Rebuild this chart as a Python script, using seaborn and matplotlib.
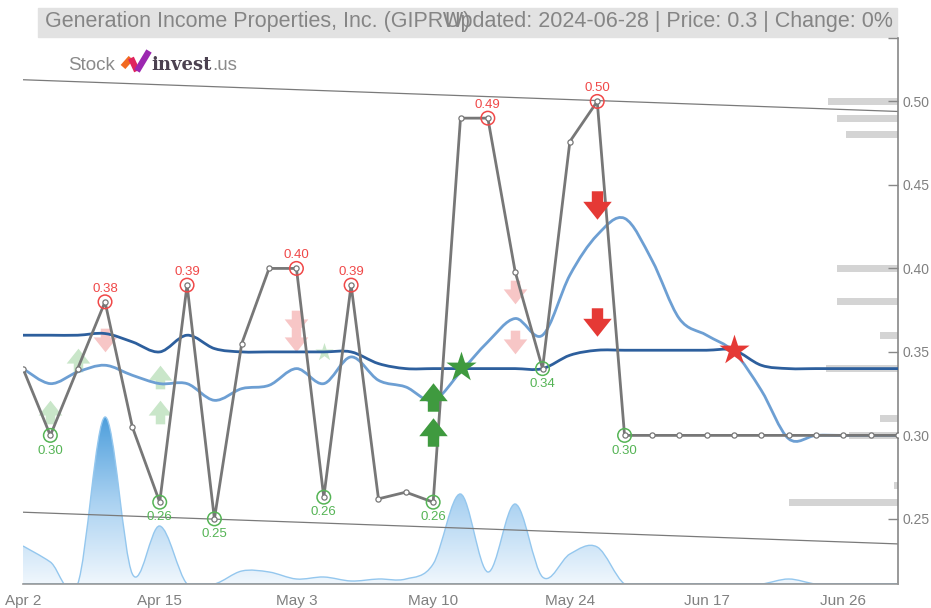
import numpy as np
import matplotlib
matplotlib.use("Agg")
import matplotlib.pyplot as plt
from matplotlib.path import Path
from matplotlib.patches import Rectangle, PathPatch
from matplotlib.lines import Line2D
from matplotlib.colors import LinearSegmentedColormap
import seaborn as sns

# ---- values (one point per trading day) ----
tick_pos = [0, 5, 10, 15, 20, 25, 30]
tick_labels = ["Apr 2", "Apr 15", "May 3", "May 10", "May 24", "Jun 17", "Jun 26"]

price = [0.34, 0.30, 0.34, 0.38, 0.305, 0.26, 0.39, 0.25, 0.355, 0.40, 0.40,
         0.263, 0.39, 0.262, 0.266, 0.26, 0.49, 0.49, 0.398, 0.34, 0.476, 0.50,
         0.30, 0.30, 0.30, 0.30, 0.30, 0.30, 0.30, 0.30, 0.30, 0.30, 0.30]
ma_short = [0.340, 0.331, 0.338, 0.342, 0.336, 0.331, 0.331, 0.321, 0.328, 0.330,
            0.340, 0.331, 0.347, 0.333, 0.329, 0.321, 0.338, 0.356, 0.370, 0.360,
            0.396, 0.420, 0.430, 0.405, 0.370, 0.360, 0.350, 0.327, 0.298, 0.300,
            0.300, 0.300, 0.300]
ma_long = [0.360, 0.360, 0.360, 0.361, 0.356, 0.350, 0.360, 0.352, 0.350, 0.350,
           0.350, 0.350, 0.350, 0.343, 0.340, 0.340, 0.340, 0.340, 0.340, 0.340,
           0.348, 0.351, 0.351, 0.351, 0.351, 0.351, 0.351, 0.342, 0.340, 0.340,
           0.340, 0.340, 0.340]
volume = [3800, 2200, 0, 16700, 1000, 5800, 0, 0, 1300, 1200, 500, 700, 300, 500,
          500, 2000, 9000, 1200, 8000, 700, 3000, 3700, 0, 0, 0, 0, 0, 0, 500,
          0, 0, 0, 0]

high_idx = [3, 6, 10, 12, 17, 21]
low_idx = [1, 5, 7, 11, 15, 19, 22]

trend_x = [0, 32]
trend_upper = [0.513, 0.494]
trend_lower = [0.254, 0.235]

buy_weak_x, buy_weak_y = [1, 2, 5, 5], [0.314, 0.345, 0.335, 0.314]
sell_weak_x, sell_weak_y = [3, 10, 10, 18, 18], [0.357, 0.368, 0.357, 0.386, 0.356]
buy_strong_x, buy_strong_y = [15, 15], [0.323, 0.302]
sell_strong_x, sell_strong_y = [21, 21], [0.438, 0.368]
star_weak_x, star_weak_y = [11], [0.350]
star_buy_x, star_buy_y = [16], [0.341]
star_sell_x, star_sell_y = [26], [0.351]

profile_price = [0.50, 0.49, 0.48, 0.40, 0.38, 0.36, 0.34, 0.31, 0.30, 0.27, 0.26]
profile_vol = [70, 61, 52, 61, 61, 18, 72, 18, 49, 4, 109]

title_left = "Generation Income Properties, Inc. (GIPRW)"
title_right = "Updated: 2024-06-28 | Price: 0.3 | Change: 0%"


def smooth_path(xs, ys):
    # cardinal (catmull-rom) curve through the points, as bezier segments
    pts = np.column_stack([xs, ys]).astype(float)
    ext = np.vstack([pts[0], pts, pts[-1]])
    verts = [pts[0]]
    codes = [Path.MOVETO]
    for i in range(len(pts) - 1):
        p0, p1, p2, p3 = ext[i], ext[i + 1], ext[i + 2], ext[i + 3]
        verts += [p1 + (p2 - p0) / 6, p2 - (p3 - p1) / 6, p2]
        codes += [Path.CURVE4] * 3
    return Path(verts, codes)


sns.set_style("white")
plt.rcParams["font.family"] = ["Liberation Sans", "DejaVu Sans"]

W, H = 931, 608
fig = plt.figure(figsize=(W / 100, H / 100), dpi=100)
rect = [23 / W, 24 / H, 875 / W, 546 / H]

ax_vol = fig.add_axes(rect)
ax_prof = fig.add_axes(rect)
ax = fig.add_axes(rect)
ax_vol.set_zorder(0)
ax_prof.set_zorder(1)
ax.set_zorder(2)
ax.patch.set_visible(False)
ax_prof.patch.set_visible(False)

x = np.arange(len(price))

# volume area with vertical gradient
vmax = max(volume)
vol_curve = smooth_path(x, volume)
area = Path(np.vstack([vol_curve.vertices, [[x[-1], 0], [x[0], 0], [x[0], volume[0]]]]),
            list(vol_curve.codes) + [Path.LINETO, Path.LINETO, Path.CLOSEPOLY])
cmap = LinearSegmentedColormap.from_list("vol", ["#f0f7fd", "#a9d1f1", "#4e9fdc"])
grad = np.linspace(0, 1, 256).reshape(-1, 1)
img = ax_vol.imshow(grad, extent=[0, 32, 0, vmax], origin="lower", aspect="auto",
                    cmap=cmap, zorder=1)
img.set_clip_path(area, transform=ax_vol.transData)
ax_vol.add_patch(PathPatch(vol_curve, fill=False, edgecolor="#94c7ee", lw=1, zorder=2))
ax_vol.axhline(0, color="#86bde8", lw=2, zorder=3)
ax_vol.set_xlim(0, 32)
ax_vol.set_ylim(0, vmax * 546 / 167)
ax_vol.axis("off")

# price-by-volume bars on the right
ax_prof.barh(profile_price, profile_vol, height=0.0042, left=0, color="#d4d4d4", lw=0)
ax_prof.set_xlim(max(profile_vol) * 875 / 109, 0)
ax_prof.set_ylim(0.211, 0.538)
ax_prof.axis("off")

# trend channel
sns.lineplot(x=trend_x, y=trend_upper, ax=ax, color="#7a7a7a", lw=0.9)
sns.lineplot(x=trend_x, y=trend_lower, ax=ax, color="#7a7a7a", lw=0.9)

# moving averages (smoothed curves through the read values)
ax.add_patch(PathPatch(smooth_path(x, ma_long), fill=False, edgecolor="#2d5f9d",
                       lw=2.0, zorder=3))
ax.add_patch(PathPatch(smooth_path(x, ma_short), fill=False, edgecolor="#6d9fd3",
                       lw=2.0, zorder=3))

# price line + dots
sns.lineplot(x=x, y=price, ax=ax, color="#777777", lw=2.0, zorder=4)
ax.scatter(x, price, s=14, facecolor="white", edgecolor="#777777", lw=0.9, zorder=5)

# high / low circles
hx = high_idx
hy = [price[i] for i in high_idx]
lx = low_idx
ly = [price[i] for i in low_idx]
ax.scatter(hx, hy, s=95, facecolor="none", edgecolor="#f04848", lw=1.1, zorder=6)
ax.scatter(lx, ly, s=95, facecolor="none", edgecolor="#55b455", lw=1.1, zorder=6)
for i in high_idx:
    ax.annotate(f"{price[i]:.2f}", (i, price[i]), xytext=(0, 9.5),
                textcoords="offset points", ha="center", va="center",
                color="#f04848", fontsize=9.5, zorder=7)
for i in low_idx:
    ax.annotate(f"{price[i]:.2f}", (i, price[i]), xytext=(0, -11),
                textcoords="offset points", ha="center", va="center",
                color="#55b455", fontsize=9.5, zorder=7)

# signal arrows and stars
up = Path([(0, 0.5), (0.5, -0.13), (0.2, -0.13), (0.2, -0.5), (-0.2, -0.5),
           (-0.2, -0.13), (-0.5, -0.13), (0, 0.5)])
down = Path([(vx, -vy) for vx, vy in up.vertices])

sns.scatterplot(x=buy_weak_x, y=buy_weak_y, ax=ax, marker=up, s=290,
                color="#c9e6c9", linewidth=0, zorder=2)
sns.scatterplot(x=sell_weak_x, y=sell_weak_y, ax=ax, marker=down, s=290,
                color="#f7c6c6", linewidth=0, zorder=2)
sns.scatterplot(x=star_weak_x, y=star_weak_y, ax=ax, marker="*", s=190,
                color="#c9e6c9", linewidth=0, zorder=2)
sns.scatterplot(x=buy_strong_x, y=buy_strong_y, ax=ax, marker=up, s=420,
                color="#3f9a3f", linewidth=0, zorder=8)
sns.scatterplot(x=sell_strong_x, y=sell_strong_y, ax=ax, marker=down, s=420,
                color="#e53935", linewidth=0, zorder=8)
sns.scatterplot(x=star_buy_x, y=star_buy_y, ax=ax, marker="*", s=520,
                color="#3f9a3f", linewidth=0, zorder=8)
sns.scatterplot(x=star_sell_x, y=star_sell_y, ax=ax, marker="*", s=520,
                color="#e53935", linewidth=0, zorder=8)

# axes styling
ax.set_xlim(0, 32)
ax.set_ylim(0.211, 0.538)
ax.set_xticks(tick_pos)
ax.set_xticklabels(tick_labels)
ax.set_xticks([32], minor=True)
ax.yaxis.tick_right()
ax.set_yticks([0.25, 0.30, 0.35, 0.40, 0.45, 0.50])
ax.set_yticklabels(["0.25", "0.30", "0.35", "0.40", "0.45", "0.50"])
ax.set_yticks([0.538], minor=True)
ax.tick_params(axis="x", which="both", direction="out", length=5, width=1,
               color="#999999", labelcolor="#808080", labelsize=11, pad=2)
ax.tick_params(axis="y", which="both", direction="in", length=7, width=1,
               color="#888888", labelcolor="#808080", labelsize=10, pad=3)
ax.set_xlabel("")
ax.set_ylabel("")
for side in ["left", "top"]:
    ax.spines[side].set_visible(False)
ax.spines["right"].set_color("#888888")
ax.spines["bottom"].set_color("#999999")
ax.spines["right"].set_linewidth(1.2)
ax.spines["bottom"].set_linewidth(1.2)

# title bar
fig.patches.append(Rectangle((38 / W, 1 - 37 / H), 859 / W, 29 / H,
                             transform=fig.transFigure, color="#e2e2e2", zorder=0))
fig.text(45 / W, 1 - 22 / H, title_left, ha="left", va="center",
         fontsize=15.5, color="#858585")
fig.text(893 / W, 1 - 22 / H, title_right, ha="right", va="center",
         fontsize=15.5, color="#858585")

# logo
fig.text(68 / W, 1 - 65 / H, "Stock", ha="left", va="center", fontsize=13.5,
         color="#8a8a8a")
logo_pts = [(123, 67), (131, 58), (137, 71), (149, 51)]
logo_cols = ["#f26a21", "#e0245e", "#9c27b0"]
for (x0, y0), (x1, y1), c in zip(logo_pts[:-1], logo_pts[1:], logo_cols):
    fig.add_artist(Line2D([x0 / W, x1 / W], [1 - y0 / H, 1 - y1 / H], lw=4.5,
                          color=c, solid_capstyle="butt", transform=fig.transFigure))
fig.text(151 / W, 1 - 65 / H, "invest", ha="left", va="center", fontsize=13,
         fontweight="bold", family="DejaVu Serif", color="#4b4150")
fig.text(212 / W, 1 - 65 / H, ".us", ha="left", va="center", fontsize=13.5,
         color="#8a8a8a")

fig.savefig("out.png", dpi=100)
